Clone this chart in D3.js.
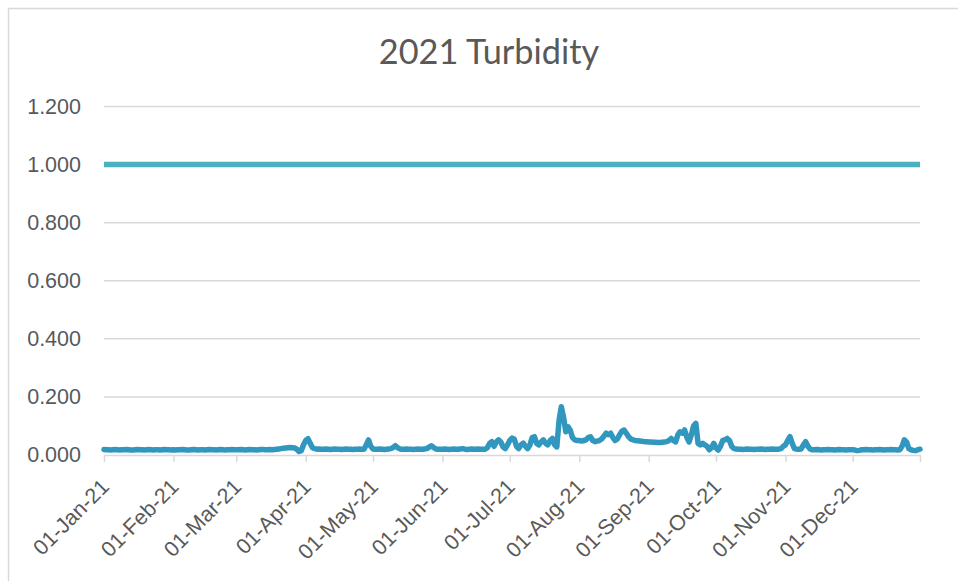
<!DOCTYPE html>
<html>
<head>
<meta charset="utf-8">
<script src="https://cdn.jsdelivr.net/npm/d3@7"></script>
<style>
  body { margin: 0; background: #fff; }
  svg { display: block; font-family: Lato, 'Liberation Sans', sans-serif; }
  .axis text { fill: #595959; }
</style>
</head>
<body>
<svg id="chart" width="958" height="581"></svg>
<script>
'use strict';

// daily turbidity readings for 2021, one array per month
var jan = [0.019, 0.018, 0.018, 0.017, 0.018, 0.019, 0.018, 0.017, 0.018, 0.018,
  0.019, 0.018, 0.017, 0.017, 0.018, 0.019, 0.018, 0.018, 0.017, 0.018,
  0.019, 0.018, 0.017, 0.018, 0.018, 0.017, 0.018, 0.019, 0.018, 0.018, 0.017];
var feb = [0.018, 0.017, 0.018, 0.018, 0.019, 0.018, 0.017, 0.017, 0.018, 0.019,
  0.018, 0.017, 0.018, 0.018, 0.017, 0.018, 0.019, 0.018, 0.018, 0.017,
  0.018, 0.019, 0.018, 0.017, 0.018, 0.018, 0.019, 0.018];
var mar = [0.018, 0.018, 0.019, 0.018, 0.017, 0.018, 0.019, 0.018, 0.018, 0.017,
  0.018, 0.019, 0.019, 0.018, 0.018, 0.019, 0.018, 0.019, 0.020, 0.021,
  0.022, 0.023, 0.024, 0.025, 0.026, 0.025, 0.024, 0.020, 0.012, 0.015, 0.035];
var apr = [0.050, 0.056, 0.040, 0.025, 0.022, 0.020, 0.021, 0.020, 0.020, 0.021,
  0.020, 0.019, 0.020, 0.021, 0.020, 0.020, 0.019, 0.020, 0.021, 0.020,
  0.020, 0.019, 0.020, 0.020, 0.021, 0.020, 0.020, 0.035, 0.052, 0.030];
var may = [0.021, 0.020, 0.020, 0.021, 0.020, 0.019, 0.020, 0.021, 0.022, 0.026,
  0.032, 0.025, 0.021, 0.020, 0.020, 0.021, 0.020, 0.020, 0.019, 0.020,
  0.021, 0.020, 0.020, 0.021, 0.022, 0.027, 0.032, 0.026, 0.021, 0.020, 0.020];
var jun = [0.020, 0.021, 0.020, 0.019, 0.020, 0.021, 0.020, 0.020, 0.021, 0.022,
  0.020, 0.019, 0.020, 0.021, 0.020, 0.020, 0.021, 0.020, 0.020, 0.020,
  0.025, 0.040, 0.046, 0.030, 0.045, 0.052, 0.045, 0.028, 0.022, 0.035];
var jul = [0.050, 0.058, 0.055, 0.030, 0.022, 0.035, 0.041, 0.030, 0.022, 0.035,
  0.060, 0.063, 0.040, 0.035, 0.045, 0.052, 0.040, 0.035, 0.050, 0.057,
  0.035, 0.028, 0.120, 0.166, 0.130, 0.080, 0.097, 0.085, 0.060, 0.052, 0.050];
var aug = [0.050, 0.048, 0.050, 0.052, 0.060, 0.063, 0.050, 0.046, 0.048, 0.050,
  0.055, 0.065, 0.075, 0.070, 0.075, 0.060, 0.050, 0.055, 0.070, 0.082,
  0.086, 0.075, 0.063, 0.055, 0.052, 0.050, 0.049, 0.048, 0.047, 0.046, 0.046];
var sep = [0.045, 0.045, 0.044, 0.044, 0.043, 0.043, 0.044, 0.045, 0.046, 0.050,
  0.057, 0.050, 0.045, 0.070, 0.080, 0.075, 0.086, 0.060, 0.045, 0.070,
  0.100, 0.109, 0.040, 0.035, 0.040, 0.035, 0.030, 0.018, 0.025, 0.040];
var oct = [0.025, 0.017, 0.030, 0.050, 0.052, 0.057, 0.050, 0.030, 0.022, 0.021,
  0.020, 0.020, 0.019, 0.020, 0.021, 0.020, 0.020, 0.019, 0.020, 0.020,
  0.021, 0.020, 0.019, 0.020, 0.020, 0.021, 0.020, 0.020, 0.020, 0.022, 0.030];
var nov = [0.035, 0.050, 0.063, 0.040, 0.022, 0.020, 0.020, 0.021, 0.035, 0.046,
  0.030, 0.020, 0.018, 0.018, 0.019, 0.018, 0.017, 0.018, 0.018, 0.019,
  0.018, 0.018, 0.017, 0.018, 0.019, 0.018, 0.018, 0.017, 0.018, 0.018];
var dec = [0.018, 0.017, 0.015, 0.016, 0.018, 0.018, 0.019, 0.018, 0.018, 0.017,
  0.018, 0.018, 0.019, 0.018, 0.017, 0.018, 0.018, 0.019, 0.018, 0.018,
  0.017, 0.018, 0.030, 0.052, 0.045, 0.022, 0.018, 0.016, 0.015, 0.018, 0.020];

var limitValue = 1.0;
var yTicks = [0, 0.2, 0.4, 0.6, 0.8, 1.0, 1.2];
var titleText = '2021 Turbidity';

var turbidity = [].concat(jan, feb, mar, apr, may, jun, jul, aug, sep, oct, nov, dec);
var startDate = new Date(2021, 0, 1);
var endDate = new Date(2021, 11, 31);

var data = turbidity.map(function (v, i) {
  return { date: d3.timeDay.offset(startDate, i), value: v };
});

var margin = { top: 106.5, right: 38, bottom: 126, left: 104 };
var width = 958 - margin.left - margin.right;
var height = 581 - margin.top - margin.bottom;

var svg = d3.select('#chart');

// chart area border
svg.append('rect')
    .attr('x', 8.5)
    .attr('y', 8.5)
    .attr('width', 1000)
    .attr('height', 1000)
    .attr('fill', 'none')
    .attr('stroke', '#d9d9d9')
    .attr('stroke-width', 1.5);

svg.append('text')
    .attr('x', 489)
    .attr('y', 64)
    .attr('text-anchor', 'middle')
    .attr('fill', '#595959')
    .style('font-size', '34.3px')
    .text(titleText);

var xScale = d3.scaleTime()
    .domain([startDate, endDate])
    .range([0, width]);

var yScale = d3.scaleLinear()
    .domain([0, 1.2])
    .range([height, 0]);

var chart = svg.append('g')
    .attr('transform', 'translate(' + margin.left + ', ' + margin.top + ')');

// gridlines
chart.selectAll('line.grid')
    .data(yTicks.filter(function (t) { return t > 0; }))
  .enter().append('line')
    .attr('class', 'grid')
    .attr('x1', 0)
    .attr('x2', width)
    .attr('y1', function (d) { return yScale(d); })
    .attr('y2', function (d) { return yScale(d); })
    .attr('stroke', '#d9d9d9')
    .attr('stroke-width', 1.5);

// y labels
var yAxis = d3.axisLeft(yScale)
    .tickValues(yTicks)
    .tickSize(0)
    .tickPadding(23)
    .tickFormat(d3.format('.3f'));

chart.append('g')
    .attr('class', 'axis y')
    .call(yAxis)
    .call(function (g) { g.select('.domain').remove(); })
    .selectAll('text')
    .style('font-size', '21.5px');

// x axis
var monthTicks = d3.timeMonth.range(startDate, new Date(2022, 0, 1));
var fmt = d3.timeFormat('%d-%b-%y');
var xAxis = d3.axisBottom(xScale)
    .tickValues(monthTicks.concat([endDate]))
    .tickSize(7)
    .tickSizeOuter(0)
    .tickFormat(function (d) { return +d === +endDate ? '' : fmt(d); });

var xg = chart.append('g')
    .attr('class', 'axis x')
    .attr('transform', 'translate(0, ' + height + ')')
    .call(xAxis);

xg.select('.domain').attr('stroke', '#d9d9d9').attr('stroke-width', 1.5);
xg.selectAll('.tick line').attr('stroke', '#d9d9d9').attr('stroke-width', 1.5);
xg.selectAll('.tick text')
    .style('font-size', '21.5px')
    .attr('text-anchor', 'end')
    .attr('y', 0)
    .attr('dy', 0)
    .attr('transform', 'translate(6, 33) rotate(-45)');

// limit line at 1.000
chart.append('path')
    .datum(data)
    .attr('fill', 'none')
    .attr('stroke', '#4bb0c0')
    .attr('stroke-width', 5.5)
    .attr('d', d3.line()
      .x(function (d) { return xScale(d.date); })
      .y(function () { return yScale(limitValue); }));

// turbidity line
chart.append('path')
    .datum(data)
    .attr('fill', 'none')
    .attr('stroke', '#3297bf')
    .attr('stroke-width', 5.5)
    .attr('stroke-linejoin', 'round')
    .attr('stroke-linecap', 'round')
    .attr('d', d3.line()
      .x(function (d) { return xScale(d.date); })
      .y(function (d) { return yScale(d.value); }));
</script>
</body>
</html>
